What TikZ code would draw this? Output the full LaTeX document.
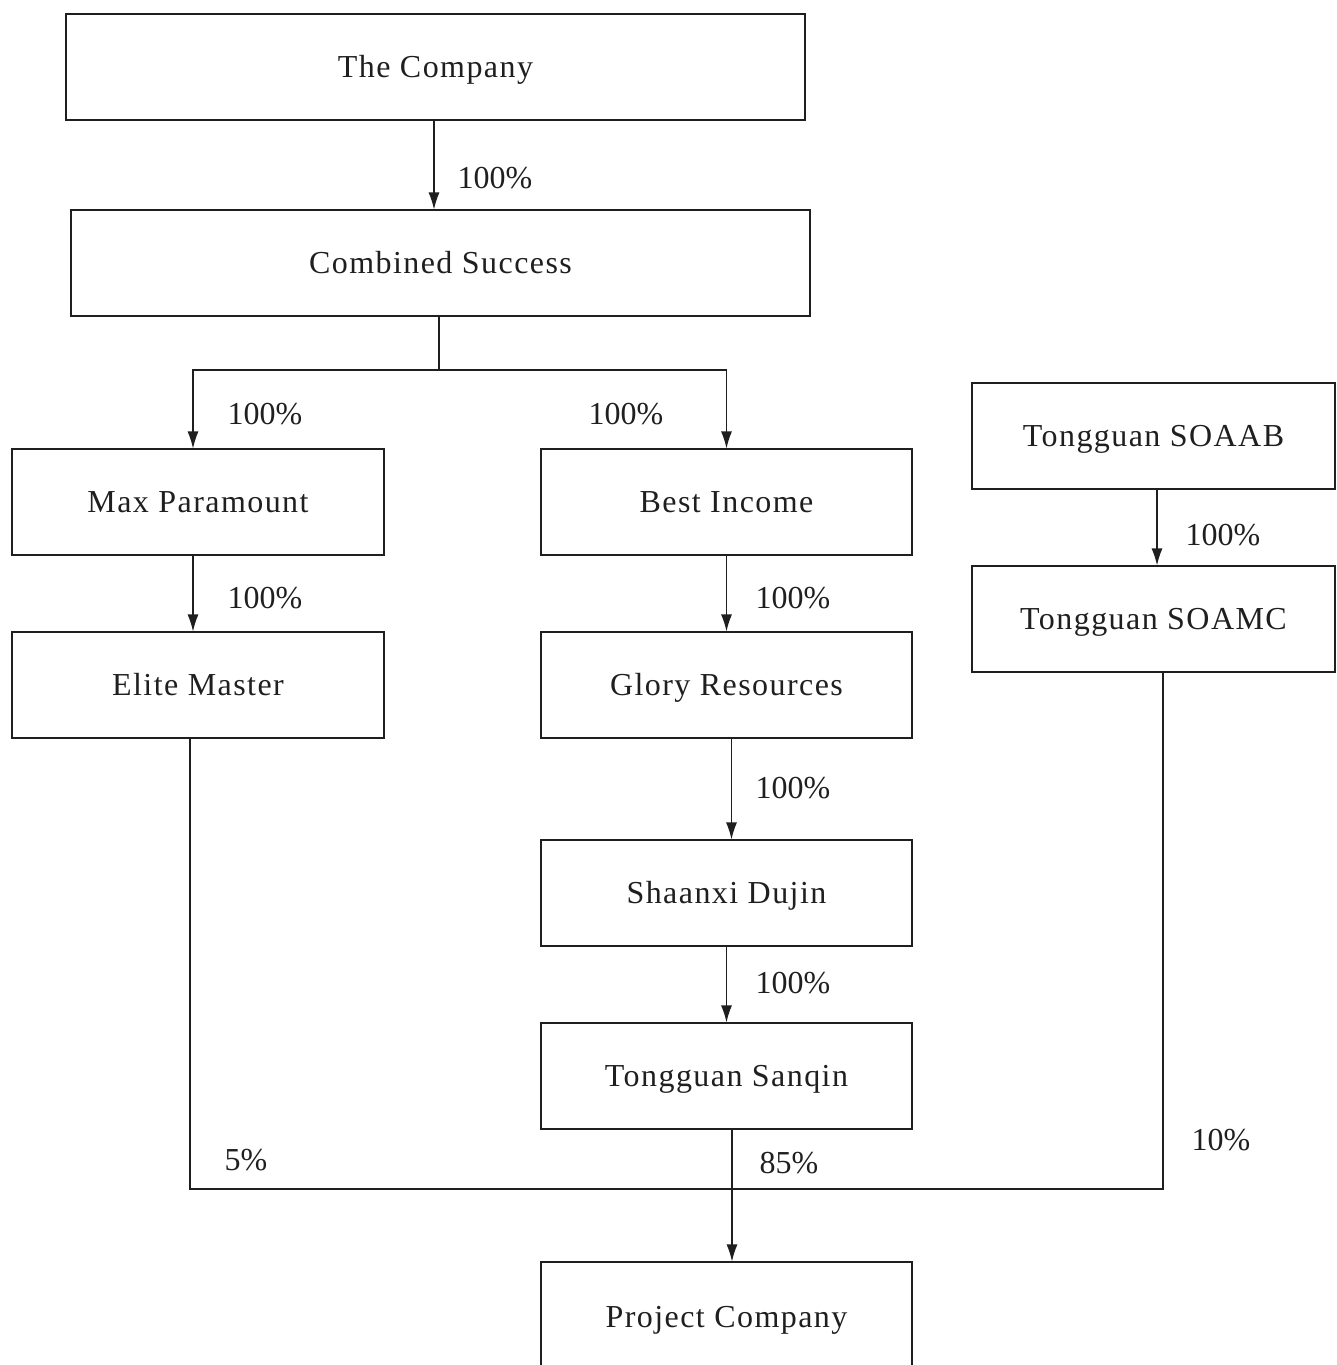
\documentclass[tikz,border=0pt]{standalone}
\usepackage{fontspec}
\setmainfont{Liberation Serif}
\usetikzlibrary{arrows.meta, positioning}

\tikzset{
    entity/.style={draw, line width=1.2pt, minimum height=106pt, inner sep=0pt,
        text height=24pt, text depth=4pt,
        font=\fontsize{32}{38}\selectfont\addfontfeatures{LetterSpace=4.5}},
    share/.style={inner sep=0pt, font=\fontsize{32}{38}\selectfont},
    own/.style={line width=1.2pt, -{Latex[length=17pt, width=11pt]}}
}

\begin{document}
\begin{tikzpicture}[x=1pt, y=-1pt, color=black!88]
            \useasboundingbox (0,0) rectangle (1336,1365);
            % boxes
            \node[entity, minimum width=739pt] (company) at (435.5,67) {The Company};
            \node[entity, minimum width=739pt] (combined) at (440.5,263) {Combined Success};
            \node[entity, minimum width=372pt] (maxpara) at (198,502) {Max Paramount};
            \node[entity, minimum width=371pt] (bestinc) at (726.5,502) {Best Income};
            \node[entity, minimum width=363pt] (soaab) at (1153.5,436) {Tongguan SOAAB};
            \node[entity, minimum width=363pt] (soamc) at (1153.5,619) {Tongguan SOAMC};
            \node[entity, minimum width=372pt] (elite) at (198,685) {Elite Master};
            \node[entity, minimum width=371pt] (glory) at (726.5,685) {Glory Resources};
            \node[entity, minimum width=371pt] (dujin) at (726.5,893) {Shaanxi Dujin};
            \node[entity, minimum width=371pt] (sanqin) at (726.5,1076) {Tongguan Sanqin};
            \node[entity, minimum width=371pt, minimum height=110pt] (project) at (726.5,1317) {Project Company};

            % connectors
            \draw[own] ([xshift=-1.5]company.south) -- ([xshift=-1.5]company.south |- combined.north);
            \coordinate (split) at (439,370);
            \draw[line width=1.2pt] ([xshift=-1.5]combined.south) -- (split);
            \draw[own] (split) -| ([xshift=-5]maxpara.north);
            \draw[own] (split) -| (bestinc.north);
            \draw[own] ([xshift=-5]maxpara.south) -- ([xshift=-5]elite.north);
            \draw[own] (bestinc.south) -- (glory.north);
            \draw[own] ([xshift=5]glory.south) -- ([xshift=5]dujin.north);
            \draw[own] (dujin.south) -- (sanqin.north);
            \draw[own] ([xshift=3.5]soaab.south) -- ([xshift=3.5]soamc.north);
            \coordinate (join) at (732,1189);
            \draw[line width=1.2pt] ([xshift=-8]elite.south) |- (join) -| ([xshift=9.5]soamc.south);
            \draw[own] ([xshift=5.5]sanqin.south) -- ([xshift=5.5]project.north);

            % shares
            \node[share] (s1) at (495,178) {100\%};
            \node[share] (s2) at (265,414) {100\%};
            \node[share] (s3) at (626,414) {100\%};
            \node[share] (s4) at (265,598) {100\%};
            \node[share] (s5) at (793,598) {100\%};
            \node[share] (s6) at (793,788) {100\%};
            \node[share] (s7) at (793,983) {100\%};
            \node[share] (s8) at (1223,535) {100\%};
            \node[share] (s9) at (246,1160) {5\%};
            \node[share] (s10) at (789,1163) {85\%};
            \node[share] (s11) at (1221,1140) {10\%};
        \end{tikzpicture}
\end{document}
